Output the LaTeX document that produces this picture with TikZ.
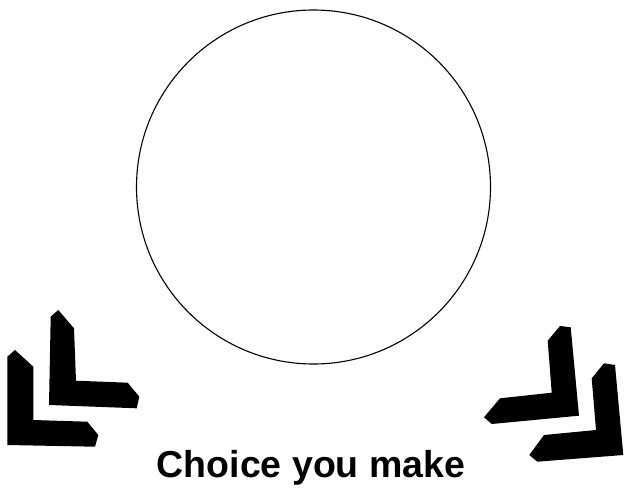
\documentclass[tikz,border=0pt]{standalone}
\usepackage{fontspec}
\setmainfont{Liberation Sans}
\begin{document}
\begin{tikzpicture}[x=1pt,y=-1pt,
  chev/.style={fill=black,draw=none},
  ring/.style={circle,draw=black,line width=1.1pt,minimum size=354pt,inner sep=0pt},
  caption/.style={font=\fontsize{37.5}{40}\selectfont\bfseries,inner sep=0pt,anchor=base}]
\useasboundingbox (0,0) rectangle (626,487);
\node[ring] (c) at (313.5,187) {};
% left pair
\fill[chev] (58.3,310) -- (50.7,316.7) -- (49,405) -- (136.7,408.3) -- (139.3,396.7) -- (127.7,382.7) -- (76,380.7) -- (74,328.3) -- cycle;
\fill[chev] (15,350) -- (7.3,356.7) -- (7.3,445) -- (95,446.7) -- (98.3,435) -- (87.3,421.7) -- (33.3,420) -- (33.3,366.7) -- cycle;
% right pair
\fill[chev] (560,326) -- (570.7,327.3) -- (579,415.7) -- (491.7,424) -- (484,417.3) -- (500,398.3) -- (551.7,392.7) -- (547.7,340.7) -- cycle;
\fill[chev] (604,363.3) -- (615,365) -- (623.3,455) -- (537.3,461.7) -- (529.3,455) -- (544,435) -- (596,430) -- (591.7,378.3) -- cycle;
\node[caption] (t) at (311,477) {Choice you make};
\end{tikzpicture}
\end{document}
